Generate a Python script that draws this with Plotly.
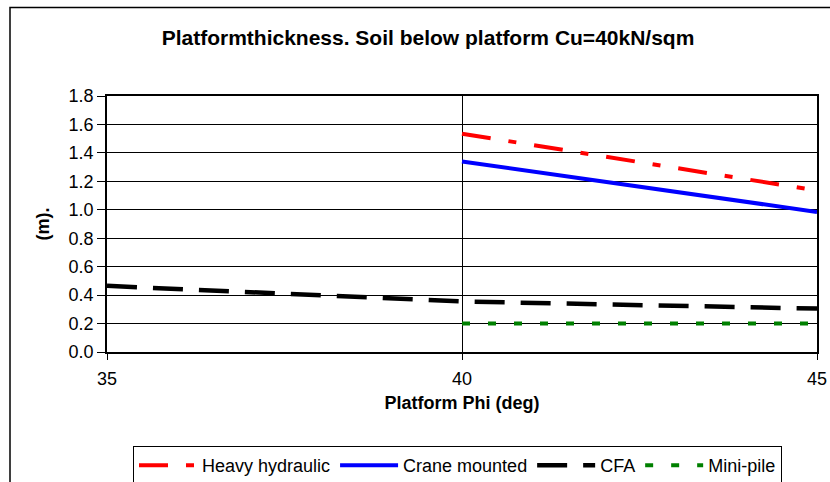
import plotly.graph_objects as go

# Data
phi_heavy = [40, 45]
heavy_hydraulic = [1.535, 1.135]

phi_crane = [40, 45]
crane_mounted = [1.34, 0.985]

phi_cfa = [35, 40, 45]
cfa = [0.465, 0.355, 0.305]

phi_mini = [40, 45]
mini_pile = [0.2, 0.2]

x_ticks = [35, 40, 45]
y_ticks = [0.0, 0.2, 0.4, 0.6, 0.8, 1.0, 1.2, 1.4, 1.6, 1.8]

FONT = "Liberation Sans, Arial, sans-serif"

W, H = 830, 482
# plot area in window pixels: x 107..817, y 96..352
L, T = 107, 96
R = W - 817
B = H - 352
pw, ph = W - L - R, H - T - B

def px2paper_x(px):
    return (px - L) / pw

def px2paper_y(py):
    return (H - B - py) / ph

fig = go.Figure()
fig.add_trace(go.Scatter(x=phi_heavy, y=heavy_hydraulic, mode="lines", name="Heavy hydraulic",
                         line=dict(color="#FF0000", width=4, dash="29px,18px,8px,18px")))
fig.add_trace(go.Scatter(x=phi_crane, y=crane_mounted, mode="lines", name="Crane mounted",
                         line=dict(color="#0000FF", width=4)))
fig.add_trace(go.Scatter(x=phi_cfa, y=cfa, mode="lines", name="CFA",
                         line=dict(color="#000000", width=4.5, dash="30px,16px")))
fig.add_trace(go.Scatter(x=phi_mini, y=mini_pile, mode="lines", name="Mini-pile",
                         line=dict(color="#008000", width=4, dash="8px,18px")))

# outer chart border (extends beyond right/bottom of the window like the reference)
fig.add_shape(type="rect", xref="paper", yref="paper",
              x0=px2paper_x(10), x1=px2paper_x(845), y0=px2paper_y(500), y1=px2paper_y(7.5),
              line=dict(color="black", width=1.5), fillcolor="rgba(0,0,0,0)", layer="below")

fig.update_layout(
    width=W, height=H,
    margin=dict(l=L, r=R, t=T, b=B, pad=0, autoexpand=False),
    paper_bgcolor="white", plot_bgcolor="white",
    font=dict(family=FONT, size=18, color="black"),
    title=dict(text="<b>Platformthickness. Soil below platform Cu=40kN/sqm</b>",
               x=428 / W, xanchor="center", xref="container",
               y=1 - 38 / H, yanchor="middle",
               font=dict(family=FONT, size=21, color="black")),
    showlegend=True,
    legend=dict(orientation="h", x=px2paper_x(133), y=px2paper_y(446),
                xanchor="left", yanchor="top",
                bordercolor="black", borderwidth=1, bgcolor="white",
                font=dict(family=FONT, size=18, color="black"),
                itemwidth=58, tracegroupgap=0),
    xaxis=dict(range=[35, 45], tickvals=x_ticks, ticktext=[str(v) for v in x_ticks],
               showgrid=True, gridcolor="black", gridwidth=1,
               showline=True, linecolor="black", linewidth=1.5, mirror=True,
               ticks="outside", ticklen=6, tickcolor="black",
               ticklabelstandoff=4, ticklabeloverflow="allow",
               zeroline=False, automargin=False,
               tickfont=dict(family=FONT, size=18),
               title=dict(text="<b>Platform Phi (deg)</b>", standoff=8,
                          font=dict(family=FONT, size=18))),
    yaxis=dict(range=[0, 1.8], tickvals=y_ticks, ticktext=[f"{v:.1f}" for v in y_ticks],
               showgrid=True, gridcolor="black", gridwidth=1,
               showline=True, linecolor="black", linewidth=1.5, mirror=True,
               ticks="outside", ticklen=8, tickcolor="black", zeroline=False,
               automargin=False,
               tickfont=dict(family=FONT, size=18),
               title=dict(text="<b>(m).</b>", standoff=14,
                          font=dict(family=FONT, size=18))),
)

fig.write_html("out.html",
               config={"displayModeBar": False},
               post_script="document.body.style.margin='0';document.body.style.overflow='hidden';")
